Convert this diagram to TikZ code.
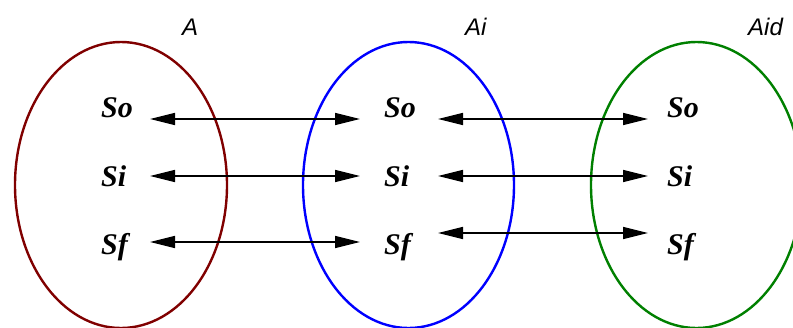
\documentclass[tikz,border=0pt]{standalone}
\usepackage{fontspec}
\setmainfont{Liberation Serif}
\setsansfont{Liberation Sans}
\usetikzlibrary{arrows.meta}
\definecolor{setred}{HTML}{800000}
\definecolor{setblue}{HTML}{0000FF}
\definecolor{setgreen}{HTML}{008000}
\tikzset{
  setring/.style={line width=2.4pt},
  elem/.style={anchor=base west, inner sep=0pt, font=\fontsize{30}{36}\selectfont\bfseries\itshape},
  setlabel/.style={anchor=base west, inner sep=0pt, font=\fontsize{24}{28}\selectfont\sffamily\itshape},
  link/.style={line width=1.6pt, {Triangle[length=25pt,width=12pt]}-{Triangle[length=25pt,width=12pt]}}
}
\begin{document}
\begin{tikzpicture}[x=1pt,y=-1pt]
\useasboundingbox (0,0) rectangle (793,327);
% sets
\draw[setring, setred] (121,185) ellipse [x radius=106, y radius=143];
\draw[setring, setblue] (408.5,185) ellipse [x radius=105.5, y radius=143];
\draw[setring, setgreen] (696.5,185) ellipse [x radius=105.5, y radius=143];
% labels
\node[setlabel] (lA) at (182,35) {A};
\node[setlabel] (lAi) at (465,35) {Ai};
\node[setlabel] (lAid) at (748,35) {Aid};
% elements
\node[elem] (so1) at (101,117) {So};
\node[elem] (si1) at (101,186) {Si};
\node[elem] (sf1) at (101,254) {Sf};
\node[elem] (so2) at (384,117) {So};
\node[elem] (si2) at (384,186) {Si};
\node[elem] (sf2) at (384,254) {Sf};
\node[elem] (so3) at (667,117) {So};
\node[elem] (si3) at (667,186) {Si};
\node[elem] (sf3) at (667,254) {Sf};
% arrow end points
\coordinate (a1l) at (150,119);
\coordinate (a1r) at (360,119);
\coordinate (b1l) at (150,176);
\coordinate (b1r) at (360,176);
\coordinate (c1l) at (150,242);
\coordinate (c1r) at (360,242);
\coordinate (a2l) at (438,119);
\coordinate (a2r) at (648,119);
\coordinate (b2l) at (438,176);
\coordinate (b2r) at (648,176);
\coordinate (c2l) at (438,233);
\coordinate (c2r) at (648,233);
\draw[link] (a1l) -- (a1r);
\draw[link] (b1l) -- (b1r);
\draw[link] (c1l) -- (c1r);
\draw[link] (a2l) -- (a2r);
\draw[link] (b2l) -- (b2r);
\draw[link] (c2l) -- (c2r);
\end{tikzpicture}
\end{document}
